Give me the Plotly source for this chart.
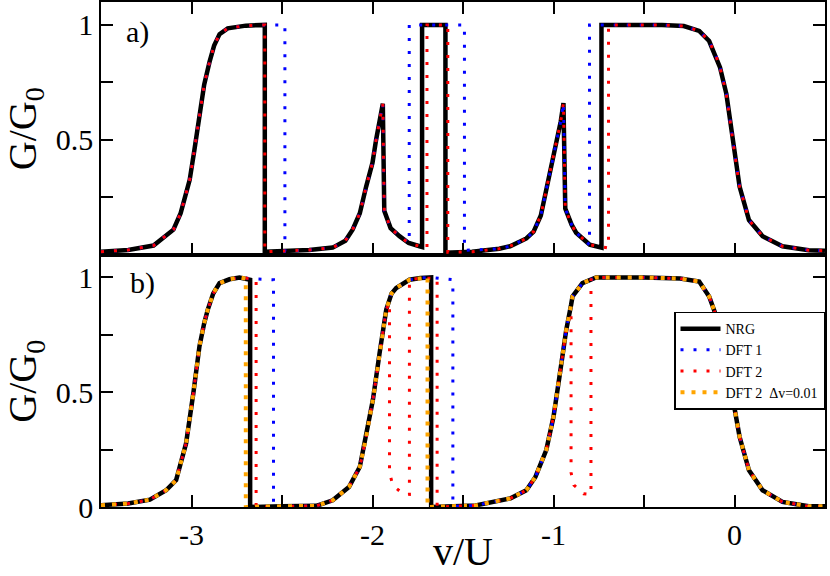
import plotly.graph_objects as go

# ---- panel a) ----
a_nrg_x = [-3.5, -3.35, -3.21, -3.1, -3.06, -3.01, -2.985, -2.956, -2.93, -2.9,
           -2.875, -2.845, -2.8, -2.7, -2.595, -2.595, -2.5, -2.35, -2.22, -2.15,
           -2.11, -2.07, -2.035, -2.0, -1.98, -1.96, -1.943, -1.935, -1.9, -1.851,
           -1.8, -1.74, -1.726, -1.726, -1.597, -1.597, -1.45, -1.3, -1.24, -1.15,
           -1.11, -1.07, -1.035, -1.0, -0.98, -0.96, -0.945, -0.935, -0.9, -0.875,
           -0.8, -0.735, -0.735, -0.6, -0.4, -0.28, -0.195, -0.14, -0.1, -0.08,
           -0.045, -0.01, 0.028, 0.08, 0.155, 0.265, 0.41, 0.5]
a_nrg_y = [0.012, 0.02, 0.039, 0.108, 0.18, 0.325, 0.45, 0.61, 0.74, 0.84,
           0.91, 0.96, 0.985, 0.997, 1.0, 0.012, 0.014, 0.02, 0.03, 0.06,
           0.108, 0.18, 0.296, 0.4, 0.5, 0.58, 0.657, 0.19, 0.115, 0.08,
           0.05, 0.036, 0.033, 1.0, 1.0, 0.008, 0.012, 0.025, 0.036, 0.07,
           0.1, 0.17, 0.3, 0.43, 0.5, 0.58, 0.66, 0.2, 0.13, 0.095,
           0.043, 0.03, 1.0, 1.0, 1.0, 0.995, 0.974, 0.93, 0.86, 0.815,
           0.7, 0.5, 0.296, 0.15, 0.08, 0.036, 0.019, 0.016]

a_dft1_x = [-3.5, -3.35, -3.21, -3.1, -3.06, -3.01, -2.985, -2.956, -2.93, -2.9,
            -2.875, -2.845, -2.8, -2.7, -2.6, -2.484, -2.484, -2.35, -2.22, -2.15,
            -2.11, -2.07, -2.035, -2.0, -1.98, -1.96, -1.943, -1.935, -1.9, -1.851,
            -1.797, -1.797, -1.492, -1.492, -1.3, -1.24, -1.15,
            -1.11, -1.07, -1.035, -1.0, -0.98, -0.96, -0.945, -0.935, -0.9, -0.875,
            -0.801, -0.801, -0.6, -0.4, -0.28, -0.195, -0.14, -0.1, -0.08,
            -0.045, -0.01, 0.028, 0.08, 0.155, 0.265, 0.41, 0.5]
a_dft1_y = [0.012, 0.02, 0.039, 0.108, 0.18, 0.325, 0.45, 0.61, 0.74, 0.84,
            0.91, 0.96, 0.985, 0.997, 1.0, 1.0, 0.014, 0.02, 0.03, 0.06,
            0.108, 0.18, 0.296, 0.4, 0.5, 0.58, 0.657, 0.19, 0.115, 0.08,
            0.05, 1.0, 1.0, 0.018, 0.025, 0.036, 0.07,
            0.1, 0.17, 0.3, 0.43, 0.5, 0.58, 0.66, 0.2, 0.13, 0.095,
            0.043, 1.0, 1.0, 1.0, 0.995, 0.974, 0.93, 0.86, 0.815,
            0.7, 0.5, 0.296, 0.15, 0.08, 0.036, 0.019, 0.016]

a_dft2_x = [-3.5, -3.35, -3.21, -3.1, -3.06, -3.01, -2.985, -2.956, -2.93, -2.9,
            -2.875, -2.845, -2.8, -2.7, -2.595, -2.595, -2.5, -2.35, -2.22, -2.15,
            -2.11, -2.07, -2.035, -2.0, -1.98, -1.96, -1.943, -1.935, -1.9, -1.851,
            -1.8, -1.74, -1.699, -1.699, -1.584, -1.584, -1.45, -1.3, -1.24, -1.15,
            -1.11, -1.07, -1.035, -1.0, -0.98, -0.96, -0.945, -0.935, -0.9, -0.875,
            -0.8, -0.696, -0.696, -0.6, -0.4, -0.28, -0.195, -0.14, -0.1, -0.08,
            -0.045, -0.01, 0.028, 0.08, 0.155, 0.265, 0.41, 0.5]
a_dft2_y = [0.012, 0.02, 0.039, 0.108, 0.18, 0.325, 0.45, 0.61, 0.74, 0.84,
            0.91, 0.96, 0.985, 0.997, 1.0, 0.012, 0.014, 0.02, 0.03, 0.06,
            0.108, 0.18, 0.296, 0.4, 0.5, 0.58, 0.657, 0.19, 0.115, 0.08,
            0.05, 0.036, 0.028, 1.0, 1.0, 0.01, 0.012, 0.025, 0.036, 0.07,
            0.1, 0.17, 0.3, 0.43, 0.5, 0.58, 0.66, 0.2, 0.13, 0.095,
            0.043, 0.028, 1.0, 1.0, 1.0, 0.995, 0.974, 0.93, 0.86, 0.815,
            0.7, 0.5, 0.296, 0.15, 0.08, 0.036, 0.019, 0.016]

# ---- panel b) ----
b_nrg_x = [-3.5, -3.35, -3.23, -3.14, -3.085, -3.03, -2.99, -2.956, -2.93, -2.91,
           -2.88, -2.845, -2.79, -2.735, -2.676, -2.676, -2.5, -2.31, -2.22, -2.13,
           -2.07, -2.035, -1.998, -1.961, -1.924, -1.895, -1.869, -1.796, -1.735, -1.676,
           -1.676, -1.43, -1.24, -1.15, -1.1, -1.04, -1.0, -0.967, -0.93, -0.903,
           -0.895, -0.84, -0.793, -0.765, -0.5, -0.3, -0.195, -0.14, -0.08, -0.045,
           -0.008, 0.028, 0.08, 0.155, 0.265, 0.41, 0.5]
b_nrg_y = [0.008, 0.015, 0.032, 0.073, 0.117, 0.277, 0.495, 0.7, 0.8, 0.86,
           0.93, 0.975, 0.992, 1.0, 0.99, 0.0, 0.003, 0.005, 0.029, 0.087,
           0.175, 0.306, 0.466, 0.67, 0.86, 0.93, 0.954, 0.99, 0.998, 1.0,
           0.0, 0.007, 0.037, 0.073, 0.131, 0.248, 0.393, 0.568, 0.77, 0.88,
           0.917, 0.975, 0.99, 1.0, 1.0, 0.995, 0.982, 0.917, 0.786, 0.626,
           0.466, 0.306, 0.16, 0.073, 0.022, 0.003, 0.003]

b_dft1_x = [-3.5, -3.35, -3.23, -3.14, -3.085, -3.03, -2.99, -2.956, -2.93, -2.91,
            -2.88, -2.845, -2.79, -2.735, -2.676, -2.547, -2.547, -2.5, -2.31, -2.22, -2.13,
            -2.07, -2.035, -1.998, -1.961, -1.924, -1.895, -1.869, -1.796, -1.735, -1.676,
            -1.556, -1.556, -1.43, -1.24, -1.15, -1.1, -1.04, -1.0, -0.967, -0.93, -0.903,
            -0.895, -0.84, -0.793, -0.765, -0.5, -0.3, -0.195, -0.14, -0.08, -0.045,
            -0.008, 0.028, 0.08, 0.155, 0.265, 0.41, 0.5]
b_dft1_y = [0.008, 0.015, 0.032, 0.073, 0.117, 0.277, 0.495, 0.7, 0.8, 0.86,
            0.93, 0.975, 0.992, 1.0, 0.995, 0.99, 0.0, 0.003, 0.005, 0.029, 0.087,
            0.175, 0.306, 0.466, 0.67, 0.86, 0.93, 0.954, 0.99, 0.998, 1.0,
            0.99, 0.003, 0.007, 0.037, 0.073, 0.131, 0.248, 0.393, 0.568, 0.77, 0.88,
            0.917, 0.975, 0.99, 1.0, 1.0, 0.995, 0.982, 0.917, 0.786, 0.626,
            0.466, 0.306, 0.16, 0.073, 0.022, 0.003, 0.003]

b_dft2_x = [-3.5, -3.35, -3.23, -3.14, -3.085, -3.03, -2.99, -2.956, -2.93, -2.91,
            -2.88, -2.845, -2.79, -2.735, -2.676, -2.643, -2.643, -2.5, -2.31, -2.22, -2.13,
            -2.07, -2.035, -1.998, -1.961, -1.924, -1.906, -1.906, -1.888, -1.833, -1.796,
            -1.796, -1.735, -1.643, -1.643, -1.43, -1.24, -1.15, -1.1, -1.04, -1.0,
            -0.967, -0.93, -0.903, -0.903, -0.887, -0.834, -0.793, -0.793, -0.765,
            -0.5, -0.3, -0.195, -0.14, -0.08, -0.045,
            -0.008, 0.028, 0.08, 0.155, 0.265, 0.41, 0.5]
b_dft2_y = [0.008, 0.015, 0.032, 0.073, 0.117, 0.277, 0.495, 0.7, 0.8, 0.86,
            0.93, 0.975, 0.992, 1.0, 0.995, 0.99, 0.0, 0.003, 0.005, 0.029, 0.087,
            0.175, 0.306, 0.466, 0.67, 0.86, 0.89, 0.15, 0.095, 0.058, 0.055,
            0.99, 0.998, 0.995, 0.0, 0.007, 0.037, 0.073, 0.131, 0.248, 0.393,
            0.568, 0.77, 0.85, 0.15, 0.095, 0.058, 0.055, 0.99, 1.0,
            1.0, 0.995, 0.982, 0.917, 0.786, 0.626,
            0.466, 0.306, 0.16, 0.073, 0.022, 0.003, 0.003]

b_dft2dv_x = [-3.5, -3.35, -3.23, -3.14, -3.085, -3.03, -2.99, -2.956, -2.93, -2.91,
              -2.88, -2.845, -2.79, -2.735, -2.70, -2.70, -2.5, -2.31, -2.22, -2.13,
              -2.07, -2.035, -1.998, -1.961, -1.924, -1.895, -1.869, -1.796, -1.735, -1.696,
              -1.696, -1.43, -1.24, -1.15, -1.1, -1.04, -1.0, -0.967, -0.93, -0.903,
              -0.895, -0.84, -0.793, -0.765, -0.5, -0.3, -0.195, -0.14, -0.08, -0.045,
              -0.008, 0.028, 0.08, 0.155, 0.265, 0.41, 0.5]
b_dft2dv_y = [0.008, 0.015, 0.032, 0.073, 0.117, 0.277, 0.495, 0.7, 0.8, 0.86,
              0.93, 0.975, 0.992, 1.0, 0.995, 0.0, 0.003, 0.005, 0.029, 0.087,
              0.175, 0.306, 0.466, 0.67, 0.86, 0.93, 0.954, 0.99, 0.998, 1.0,
              0.0, 0.007, 0.037, 0.073, 0.131, 0.248, 0.393, 0.568, 0.77, 0.88,
              0.917, 0.975, 0.99, 1.0, 1.0, 0.995, 0.982, 0.917, 0.786, 0.626,
              0.466, 0.306, 0.16, 0.073, 0.022, 0.003, 0.003]

series_names = ['NRG', 'DFT 1', 'DFT 2', 'DFT 2  \u0394v=0.01']
x_ticks = [-3, -2, -1, 0]
x_ticktext = ['-3', '-2', '-1', '0']
x_minor = [-3.5, -2.5, -1.5, -0.5]

FONT = 'Liberation Serif'


def line_style(name):
    # black solid for NRG, dotted colours for the DFT curves
    if name == 'NRG':
        return dict(color='black', width=4.5)
    if name == 'DFT 1':
        return dict(color='#0000ff', width=3, dash='3px,10px')
    if name == 'DFT 2':
        return dict(color='#ff0000', width=3, dash='3px,10px')
    return dict(color='#ffa500', width=4, dash='4px,7px')


def axis_style(minor_vals):
    return dict(showline=True, linecolor='black', linewidth=1.5, mirror='ticks',
                ticks='inside', ticklen=12, tickwidth=1.5, tickcolor='black',
                showgrid=False, zeroline=False, automargin=False,
                tickfont=dict(family=FONT, size=30, color='black'),
                minor=dict(tickvals=minor_vals, ticks='inside', ticklen=12, tickwidth=1.5,
                           tickcolor='black', showgrid=False))


def main():
    fig = go.Figure()

    bottom = [(b_nrg_x, b_nrg_y), (b_dft1_x, b_dft1_y), (b_dft2_x, b_dft2_y), (b_dft2dv_x, b_dft2dv_y)]
    for name, (xs, ys) in zip(series_names, bottom):
        fig.add_trace(go.Scatter(x=xs, y=ys, mode='lines', name=name, line=line_style(name),
                                 xaxis='x', yaxis='y'))

    top = [(a_nrg_x, a_nrg_y), (a_dft1_x, a_dft1_y), (a_dft2_x, a_dft2_y)]
    for name, (xs, ys) in zip(series_names, top):
        fig.add_trace(go.Scatter(x=xs, y=ys, mode='lines', name=name, line=line_style(name),
                                 xaxis='x2', yaxis='y2', showlegend=False))

    xa = axis_style(x_minor)
    xa.update(range=[-3.5, 0.5], tickvals=x_ticks, ticktext=x_ticktext, anchor='y', domain=[0, 1],
              mirror=True)
    xa2 = axis_style(x_minor)
    xa2.update(range=[-3.5, 0.5], tickvals=x_ticks, showticklabels=False, anchor='y2', domain=[0, 1])

    ya = axis_style([0.25, 0.75])
    ya.update(range=[0, 1.1], tickvals=[0, 0.5, 1], ticktext=['0', '0.5', '1'], domain=[0, 0.5],
              anchor='x')
    ya2 = axis_style([0.25, 0.75])
    ya2.update(range=[0, 1.1], tickvals=[0.5, 1], ticktext=['0.5', '1'], domain=[0.5, 1],
               anchor='x2')

    fig.update_layout(
        width=830, height=576,
        margin=dict(l=101, r=5, t=2, b=69),
        plot_bgcolor='white', paper_bgcolor='white',
        font=dict(family=FONT, size=30, color='black'),
        xaxis=xa, xaxis2=xa2, yaxis=ya, yaxis2=ya2,
        legend=dict(x=1, xanchor='right', y=0.29, yanchor='middle',
                    bgcolor='white', bordercolor='black', borderwidth=1.5,
                    font=dict(family=FONT, size=14, color='black'),
                    tracegroupgap=0, itemwidth=40),
    )

    # axis titles
    title_font = dict(family=FONT, size=40, color='black')
    fig.add_annotation(text='v/U', x=0.5, y=-0.137, xref='paper', yref='paper',
                       xanchor='center', yanchor='bottom', showarrow=False, font=title_font)
    for yc in [0.75, 0.25]:
        fig.add_annotation(text='G/G<sub>0</sub>', x=-0.105, y=yc, xref='paper', yref='paper',
                           xanchor='center', yanchor='middle', textangle=-90, showarrow=False,
                           font=title_font)

    # panel labels
    fig.add_annotation(text='a)', x=-3.3, y=0.97, xref='x2', yref='y2', showarrow=False,
                       font=dict(family=FONT, size=30, color='black'))
    fig.add_annotation(text='b)', x=-3.27, y=0.975, xref='x', yref='y', showarrow=False,
                       font=dict(family=FONT, size=30, color='black'))

    # page body has a default 8px margin; drop it so the figure sits at the window corner
    fig.write_html('out.html', config={'displayModeBar': False},
                   post_script="document.body.style.margin = '0';")


if __name__ == '__main__':
    main()
